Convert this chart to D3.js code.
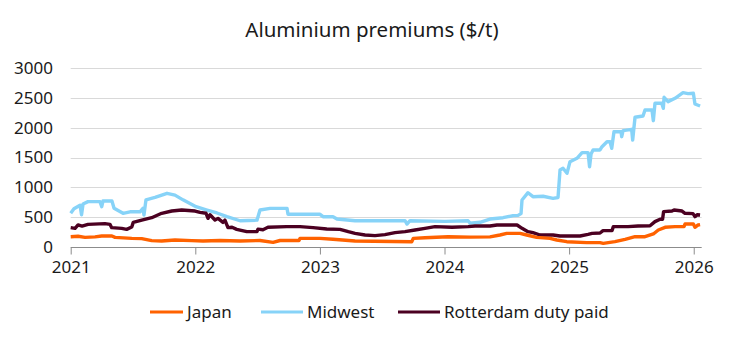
<!DOCTYPE html>
<html><head><meta charset="utf-8">
<script src="https://cdn.jsdelivr.net/npm/d3@7"></script>
<style>
html,body{margin:0;padding:0;background:#fff;}
svg{display:block;font-family:"Noto Sans",sans-serif;}
</style></head>
<body>
<svg id="chart" width="744" height="343"></svg>
<script>
const title = "Aluminium premiums ($/t)";
const yTicks = [0, 500, 1000, 1500, 2000, 2500, 3000];
const xTicks = [2021, 2022, 2023, 2024, 2025, 2026];
const seriesNames = ["Japan", "Midwest", "Rotterdam duty paid"];
const seriesColors = ["#ff6200", "#87d3f8", "#4b0021"];

// dates as decimal years
const midwestDates = [2021.000,2021.026,2021.075,2021.087,2021.099,2021.139,2021.235,2021.249,2021.259,2021.331,2021.348,2021.420,2021.476,2021.556,2021.580,2021.588,2021.604,2021.677,2021.773,2021.837,2021.901,2022.006,2022.094,2022.174,2022.254,2022.359,2022.495,2022.519,2022.600,2022.736,2022.744,2023.001,2023.025,2023.105,2023.137,2023.282,2023.683,2023.699,2023.723,2024.004,2024.189,2024.205,2024.285,2024.365,2024.470,2024.550,2024.590,2024.614,2024.622,2024.670,2024.710,2024.791,2024.871,2024.911,2024.927,2024.951,2024.983,2025.007,2025.063,2025.104,2025.152,2025.164,2025.176,2025.192,2025.248,2025.264,2025.304,2025.328,2025.342,2025.360,2025.417,2025.422,2025.433,2025.502,2025.510,2025.529,2025.593,2025.609,2025.665,2025.676,2025.689,2025.743,2025.756,2025.762,2025.794,2025.850,2025.914,2025.954,2025.997,2026.010,2026.051];
const midwestValues = [565,640,700,540,720,760,760,675,770,770,650,565,590,590,650,536,790,830,900,870,790,675,620,570,510,440,450,620,648,648,548,548,508,508,469,441,441,385,441,430,440,400,414,469,491,525,530,560,788,910,843,850,816,830,1290,1319,1235,1430,1486,1581,1581,1346,1559,1626,1626,1681,1765,1765,1654,1932,1932,1849,1950,1972,1793,2174,2196,2296,2296,2117,2408,2408,2325,2509,2436,2492,2586,2570,2576,2397,2363];

const rotterdamDates = [2021.000,2021.035,2021.059,2021.091,2021.139,2021.275,2021.315,2021.329,2021.409,2021.449,2021.490,2021.502,2021.570,2021.650,2021.730,2021.811,2021.891,2021.998,2022.038,2022.086,2022.102,2022.118,2022.158,2022.182,2022.222,2022.238,2022.262,2022.295,2022.332,2022.413,2022.495,2022.503,2022.543,2022.583,2022.734,2022.840,2022.945,2023.055,2023.161,2023.228,2023.282,2023.362,2023.442,2023.522,2023.603,2023.683,2023.763,2023.843,2023.924,2024.060,2024.189,2024.245,2024.365,2024.421,2024.582,2024.622,2024.670,2024.710,2024.767,2024.871,2024.927,2025.088,2025.152,2025.184,2025.248,2025.272,2025.344,2025.355,2025.473,2025.553,2025.649,2025.689,2025.730,2025.750,2025.758,2025.826,2025.842,2025.906,2025.930,2025.994,2026.010,2026.027,2026.051];
const rotterdamValues = [324,313,369,350,380,391,380,324,313,296,335,413,452,491,565,603,620,603,580,565,481,540,452,480,413,450,324,330,296,257,257,300,290,330,341,341,324,302,296,257,229,201,190,207,240,257,285,313,341,330,341,352,352,369,369,313,257,240,201,201,184,184,212,229,235,274,274,341,341,352,355,425,464,464,592,603,620,603,565,560,508,540,536];

const japanDates = [2021.000,2021.059,2021.115,2021.195,2021.249,2021.331,2021.356,2021.490,2021.570,2021.650,2021.730,2021.837,2021.971,2022.062,2022.198,2022.359,2022.519,2022.624,2022.680,2022.832,2022.840,2023.001,2023.105,2023.282,2023.737,2023.750,2023.843,2024.028,2024.205,2024.365,2024.445,2024.499,2024.606,2024.660,2024.740,2024.847,2024.901,2024.981,2025.141,2025.248,2025.274,2025.368,2025.449,2025.529,2025.609,2025.676,2025.716,2025.770,2025.850,2025.922,2025.930,2025.997,2026.010,2026.035,2026.051];
const japanValues = [173,180,162,170,184,184,162,145,140,106,100,117,106,100,109,100,109,78,109,109,145,145,129,100,89,145,156,173,165,170,201,229,229,201,162,145,117,89,73,73,61,89,129,173,173,218,285,330,341,341,385,385,330,369,375];

const svg = d3.select("#chart");
const x = d3.scaleLinear().domain([2021, 2026.064]).range([70.7, 701.7]);
const y = d3.scaleLinear().domain([0, 3000]).range([247, 68]);

// title
svg.append("text").attr("x", 372).attr("y", 37).attr("text-anchor", "middle")
  .attr("font-size", 20.5).attr("fill", "#1a1a1a").text(title);

// gridlines
svg.append("g").selectAll("line").data(yTicks.filter(d => d > 0)).join("line")
  .attr("x1", x.range()[0]).attr("x2", x.range()[1])
  .attr("y1", d => Math.round(y(d)) + 0.5).attr("y2", d => Math.round(y(d)) + 0.5)
  .attr("stroke", "#d9d9d9").attr("stroke-width", 1);

// y axis labels
const yAxis = d3.axisLeft(y).tickValues(yTicks).tickSize(0).tickPadding(0).tickFormat(d3.format("d"));
const gy = svg.append("g").attr("transform", "translate(53,0)").call(yAxis);
gy.select(".domain").remove();
gy.selectAll("text").attr("font-size", 17).attr("fill", "#1a1a1a").attr("font-family", "Noto Sans, sans-serif");

// x axis
const xAxis = d3.axisBottom(x).tickValues(xTicks).tickSize(7).tickPadding(6).tickFormat(d3.format("d"));
const gx = svg.append("g").attr("transform", "translate(0,247.5)").call(xAxis);
gx.select(".domain").attr("stroke", "#8c8c8c").attr("d", `M${x.range()[0]},0H${x.range()[1]}`);
gx.selectAll(".tick line").attr("stroke", "#8c8c8c");
gx.selectAll("text").attr("font-size", 17).attr("fill", "#1a1a1a").attr("font-family", "Noto Sans, sans-serif");

// lines
const line = d3.line().x(d => x(d[0])).y(d => y(d[1])).curve(d3.curveLinear);
const series = [
  {dates: midwestDates, values: midwestValues, color: seriesColors[1]},
  {dates: rotterdamDates, values: rotterdamValues, color: seriesColors[2]},
  {dates: japanDates, values: japanValues, color: seriesColors[0]}
];
series.forEach(s => {
  svg.append("path").datum(s.dates.map((d, i) => [d, s.values[i]]))
    .attr("d", line).attr("fill", "none").attr("stroke", s.color)
    .attr("stroke-width", 3.4).attr("stroke-linejoin", "round");
});

// legend
const legendX = [150, 261, 398];
const lg = svg.append("g");
seriesNames.forEach((n, i) => {
  lg.append("line").attr("x1", legendX[i]).attr("x2", legendX[i] + 33 + (i > 0 ? 9 : 0))
    .attr("y1", 312).attr("y2", 312).attr("stroke", seriesColors[i]).attr("stroke-width", 3);
  lg.append("text").attr("x", legendX[i] + 37 + (i > 0 ? 9 : 0)).attr("y", 318)
    .attr("font-size", 17).attr("fill", "#1a1a1a").text(n);
});
</script>
</body></html>
